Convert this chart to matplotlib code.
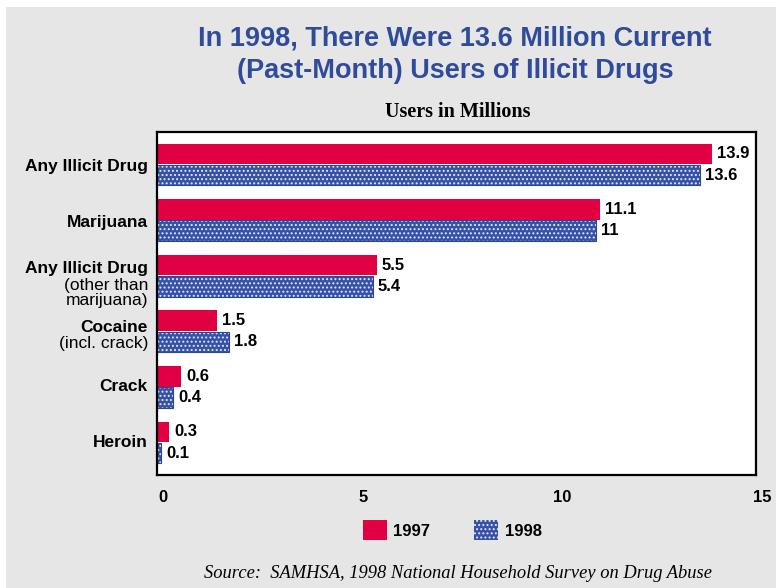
import matplotlib
matplotlib.use("Agg")
import matplotlib.pyplot as plt
import numpy as np
from matplotlib.patches import Patch, Rectangle
from matplotlib.transforms import ScaledTranslation

# Data
categories = ["Any Illicit Drug", "Marijuana", "Any Illicit Drug", "Cocaine", "Crack", "Heroin"]
subtitles = ["", "", "(other than\nmarijuana)", "(incl. crack)", "", ""]
users_1997 = [13.9, 11.1, 5.5, 1.5, 0.6, 0.3]
users_1998 = [13.6, 11.0, 5.4, 1.8, 0.4, 0.1]
labels_1997 = ["13.9", "11.1", "5.5", "1.5", "0.6", "0.3"]
labels_1998 = ["13.6", "11", "5.4", "1.8", "0.4", "0.1"]
x_ticks = [0, 5, 10, 15]

RED = "#e10042"
BLUE = "#3752a5"
DOTS = "#e4e9f8"
TITLE_BLUE = "#2f4b9b"
BG = "#e6e6e6"

SANS = ["Liberation Sans", "DejaVu Sans"]
SERIF = ["Liberation Serif", "DejaVu Serif"]

plt.rcParams["hatch.linewidth"] = 0.9

fig = plt.figure(figsize=(7.76, 5.88), dpi=100, facecolor="white")
fig.patches.append(Rectangle((6 / 776, 0), 1, 1 - 7 / 588, transform=fig.transFigure,
                             facecolor=BG, edgecolor="none", zorder=-10))

ax = fig.add_axes([157 / 776, 113 / 588, 599 / 776, 343 / 588])
ax.set_facecolor("white")

y = np.arange(len(categories))
h = 0.37
off = 0.19

ax.barh(y - off, users_1997, height=h, color=RED, edgecolor="none")
ax.barh(y + off, users_1998, height=h, color=BLUE, edgecolor=DOTS, hatch="....", linewidth=0)
ax.barh(y + off, users_1998, height=h, fill=False, edgecolor="#2c4595", linewidth=0.8)

for yi, v, s in zip(y, users_1997, labels_1997):
    ax.annotate(s, (v, yi - off), xytext=(5, 0), textcoords="offset pixels",
                va="center", ha="left", fontsize=12, fontweight="bold", family=SANS)
for yi, v, s in zip(y, users_1998, labels_1998):
    ax.annotate(s, (v, yi + off), xytext=(5, 0), textcoords="offset pixels",
                va="center", ha="left", fontsize=12, fontweight="bold", family=SANS)

# category labels (bold main line + regular sub lines)
for yi, cat, sub in zip(y, categories, subtitles):
    nsub = len(sub.split("\n")) if sub else 0
    if nsub == 0:
        dy = 0 if yi >= 4 else -2
    elif nsub == 1:
        dy = 4
    else:
        dy = 7
    ax.annotate(cat, (0, yi), xycoords=("axes fraction", "data"), xytext=(-9, dy),
                textcoords="offset pixels", ha="right", va="center",
                fontsize=12.5, fontweight="bold", family=SANS)
    if sub:
        ax.annotate(sub, (0, yi), xycoords=("axes fraction", "data"), xytext=(-9, dy - 9),
                    textcoords="offset pixels", ha="right", va="top",
                    fontsize=12.5, family=SANS, linespacing=1.05)

ax.set_xlim(0, 15)
ax.set_ylim(len(categories) - 1 + 0.585, -0.585)
ax.set_xticks(x_ticks)
ax.set_xticklabels([str(t) for t in x_ticks], fontsize=12, fontweight="bold", family=SANS)
ax.tick_params(axis="x", length=0, pad=11)
shift = ScaledTranslation(6 / 100, 0, fig.dpi_scale_trans)
for lab in ax.get_xticklabels():
    lab.set_transform(lab.get_transform() + shift)
ax.set_yticks([])
for sp in ax.spines.values():
    sp.set_linewidth(1.6)
    sp.set_color("black")

fig.text(455 / 776, 1 - 39 / 588, "In 1998, There Were 13.6 Million Current",
         ha="center", va="center", fontsize=19.5, fontweight="bold",
         color=TITLE_BLUE, family=SANS)
fig.text(455 / 776, 1 - 71 / 588, "(Past-Month) Users of Illicit Drugs",
         ha="center", va="center", fontsize=19.5, fontweight="bold",
         color=TITLE_BLUE, family=SANS)
fig.text(458 / 776, 1 - 112 / 588, "Users in Millions",
         ha="center", va="center", fontsize=14.5, fontweight="bold", family=SERIF)

handles = [Patch(facecolor=RED, edgecolor="none", label="1997"),
           Patch(facecolor=BLUE, edgecolor=DOTS, hatch="....", linewidth=0, label="1998")]
fig.legend(handles=handles, loc="center", bbox_to_anchor=(452 / 776, 1 - 530 / 588), ncol=2,
           frameon=False, handlelength=1.45, handleheight=1.45, handletextpad=0.4,
           columnspacing=2.6, prop={"family": SANS, "weight": "bold", "size": 12})

fig.text(458 / 776, 1 - 574 / 588, "Source:  SAMHSA, 1998 National Household Survey on Drug Abuse",
         ha="center", va="center", fontsize=13.3, fontstyle="italic", family=SERIF)

fig.savefig("out.png", dpi=100, facecolor=fig.get_facecolor())
